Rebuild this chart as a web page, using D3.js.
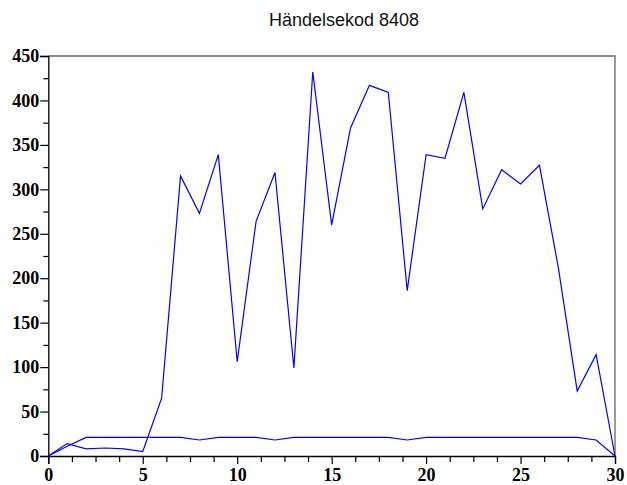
<!DOCTYPE html>
<html>
<head>
<meta charset="utf-8">
<script src="https://cdn.jsdelivr.net/npm/d3@7"></script>
<style>
  body { margin: 0; background: #fff; }
</style>
</head>
<body>
<div id="chart"></div>
<script>
// data
var days = d3.range(0, 31);
var seriesA = [0, 14, 8, 9, 8, 5, 65, 315, 273, 339, 106, 264, 319, 99, 432,
               260, 369, 417, 409, 186, 339, 335, 409, 278, 322, 306, 327, 212, 73, 114, 0];
var seriesB = [0, 11, 21, 21, 21, 21, 21, 21, 18, 21, 21, 21, 18, 21, 21,
               21, 21, 21, 21, 18, 21, 21, 21, 21, 21, 21, 21, 21, 21, 18, 0];
var xTicks = [0, 5, 10, 15, 20, 25, 30];
var yTicks = [0, 50, 100, 150, 200, 250, 300, 350, 400, 450];
var title = "Händelsekod 8408";

var W = 627, H = 485;
var plotL = 48.3, plotR = 615, plotT = 56, plotB = 456;

var svg = d3.select("#chart")
    .append("svg")
    .attr("width", W)
    .attr("height", H);

var x = d3.scaleLinear().domain([0, 30]).range([plotL, plotR]);
var y = d3.scaleLinear().domain([0, 450]).range([plotB, plotT]);

// title
svg.append("text")
    .attr("x", 344)
    .attr("y", 26)
    .attr("text-anchor", "middle")
    .attr("font-family", "Liberation Sans, Arial, sans-serif")
    .attr("font-size", "18px")
    .attr("fill", "#111")
    .text(title);

// frame top + right
svg.append("path")
    .attr("d", "M" + plotL + "," + plotT + "H" + plotR + "V" + plotB)
    .attr("fill", "none")
    .attr("stroke", "#666")
    .attr("stroke-width", 1.3);

// minor ticks
var xMinor = d3.range(0, 30.01, 1.25).filter(function(d) { return d % 5 !== 0; });
var yMinor = d3.range(25, 450, 50);

var xAxis = d3.axisBottom(x).tickValues(xTicks).tickSize(8).tickPadding(4).tickFormat(d3.format("d"));
var yAxis = d3.axisLeft(y).tickValues(yTicks).tickSize(8).tickPadding(1).tickFormat(d3.format("d"));

var gx = svg.append("g")
    .attr("transform", "translate(0," + plotB + ")")
    .call(xAxis);
var gy = svg.append("g")
    .attr("transform", "translate(" + plotL + ",0)")
    .call(yAxis);

svg.append("g")
    .attr("transform", "translate(0," + plotB + ")")
    .call(d3.axisBottom(x).tickValues(xMinor).tickSize(6).tickFormat(""))
    .select(".domain").remove();
svg.append("g")
    .attr("transform", "translate(" + plotL + ",0)")
    .call(d3.axisLeft(y).tickValues(yMinor).tickSize(5).tickFormat(""))
    .select(".domain").remove();

svg.selectAll(".tick line").attr("stroke", "#000").attr("stroke-width", 1.2);
svg.selectAll(".domain").attr("stroke", "#000").attr("stroke-width", 1.3);

gx.selectAll("text")
    .attr("font-family", "Liberation Serif, Times New Roman, serif")
    .attr("font-weight", "bold")
    .attr("font-size", "18px")
    .attr("fill", "#000");
gy.selectAll("text")
    .attr("font-family", "Liberation Serif, Times New Roman, serif")
    .attr("font-weight", "bold")
    .attr("font-size", "18px")
    .attr("fill", "#000");

// lines
var line = d3.line()
    .x(function(d, i) { return x(days[i]); })
    .y(function(d) { return y(d); });

[seriesA, seriesB].forEach(function(s) {
    svg.append("path")
        .datum(s)
        .attr("d", line)
        .attr("fill", "none")
        .attr("stroke", "#0000ff")
        .attr("stroke-width", 1.2);
});
</script>
</body>
</html>
